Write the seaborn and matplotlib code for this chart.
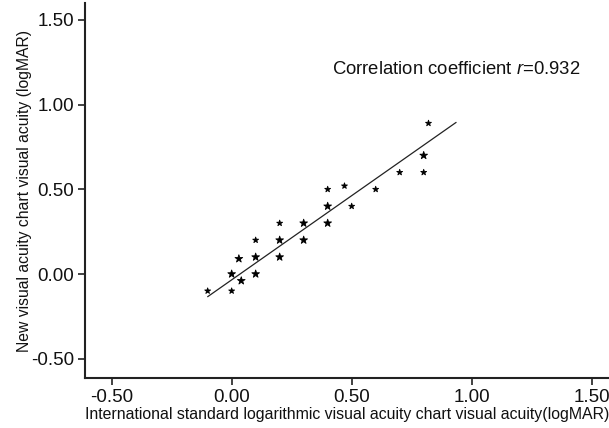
import matplotlib
matplotlib.use("Agg")
import matplotlib.pyplot as plt
import seaborn as sns
import pandas as pd
import numpy as np

# Data
intl_va = [-0.10, 0.00, 0.00, 0.04, 0.03, 0.10, 0.10, 0.10, 0.20, 0.20, 0.20, 0.30,
           0.30, 0.40, 0.40, 0.40, 0.47, 0.50, 0.60, 0.70, 0.80, 0.80, 0.82]
new_va = [-0.10, -0.10, 0.00, -0.04, 0.09, 0.00, 0.10, 0.20, 0.10, 0.20, 0.30, 0.20,
          0.30, 0.30, 0.40, 0.50, 0.52, 0.40, 0.50, 0.60, 0.60, 0.70, 0.89]
counts = [1, 1, 2, 2, 2, 2, 2, 1, 2, 2, 1, 2,
          2, 2, 2, 1, 1, 1, 1, 1, 1, 2, 1]
fit_line_x = [-0.10, 0.935]
fit_line_y = [-0.134, 0.895]
x_ticks = [-0.5, 0.0, 0.5, 1.0, 1.5]
y_ticks = [-0.5, 0.0, 0.5, 1.0, 1.5]
annot_text = "Correlation coefficient $\\it{r}$=0.932"

df = pd.DataFrame({"x": intl_va, "y": new_va, "n": counts})
line_df = pd.DataFrame({"x": fit_line_x, "y": fit_line_y})

sns.set_style("ticks")
plt.rcParams['font.family'] = ['Liberation Sans', 'DejaVu Sans']
plt.rcParams['mathtext.fontset'] = 'custom'
plt.rcParams['mathtext.it'] = 'Liberation Sans:italic'
plt.rcParams['mathtext.rm'] = 'Liberation Sans'

fig = plt.figure(figsize=(6.09, 4.28), dpi=100)
ax = fig.add_axes([85/609, 50/428, 1 - 85/609, (428 - 50 - 3)/428])

sns.scatterplot(data=df, x="x", y="y", size="n", sizes={1: 20, 2: 34},
                marker="*", color="black", edgecolor="black", linewidth=0.6,
                legend=False, ax=ax)
sns.lineplot(data=line_df, x="x", y="y", color="#222222", linewidth=0.9, ax=ax)

ax.set_xlim(-0.611, 1.572)
ax.set_ylim(-0.614, 1.60)
ax.set_xticks(x_ticks)
ax.set_yticks(y_ticks)
ax.set_xticklabels([f"{t:.2f}" for t in x_ticks])
ax.set_yticklabels([f"{t:.2f}" for t in y_ticks])
ax.tick_params(axis="both", direction="out", length=5, width=1.2, labelsize=13.5,
               color="#222222", labelcolor="#111111", pad=3)

for s in ["top", "right"]:
    ax.spines[s].set_visible(False)
for s in ["left", "bottom"]:
    ax.spines[s].set_linewidth(1.5)
    ax.spines[s].set_color("#222222")

ax.set_xlabel("International standard logarithmic visual acuity chart visual acuity(logMAR)",
              fontsize=11.4, color="#111111", labelpad=1)
ax.set_ylabel("New visual acuity chart visual acuity (logMAR)", fontsize=11.3,
              color="#111111", labelpad=-1)

ax.text(0.42, 1.21, annot_text, fontsize=13.3, color="#111111", ha="left", va="center")

fig.savefig("out.png", dpi=100)
